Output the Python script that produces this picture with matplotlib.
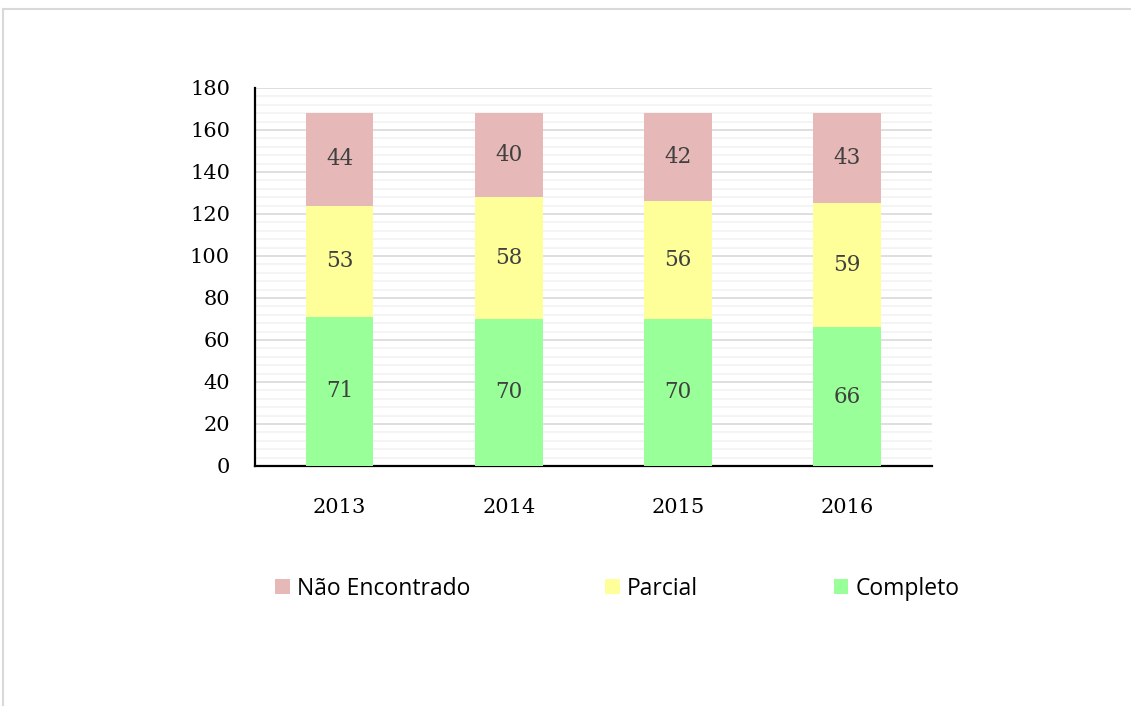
import numpy as np
import matplotlib.pyplot as plt
from matplotlib.lines import Line2D

years = ["2013", "2014", "2015", "2016"]
completo = [71, 70, 70, 66]
parcial = [53, 58, 56, 59]
nao_encontrado = [44, 40, 42, 43]

series = [("Não Encontrado", nao_encontrado, "#E6B8B7"),
          ("Parcial", parcial, "#FFFF99"),
          ("Completo", completo, "#99FF99")]

fig = plt.figure(figsize=(11.31, 7.06), dpi=100)
ax = fig.add_axes([0.2255, 0.34, 0.5985, 0.5355])

x = np.arange(len(years))
bottoms = np.zeros(len(years))
handles = {}
# stack from the bottom: Completo, Parcial, Não Encontrado
for name, vals, col in series[::-1]:
    bars = ax.bar(x, vals, 0.4, bottom=bottoms, color=col, zorder=3)
    ax.bar_label(bars, label_type="center", color="#404040",
                 fontsize=15.5, family="DejaVu Serif")
    handles[name] = bars
    bottoms += np.array(vals)

ax.set_xlim(-0.5, 3.5)
ax.set_ylim(0, 180)
ax.set_yticks(np.arange(0, 181, 20))
ax.set_yticks(np.arange(0, 181, 4), minor=True)
ax.set_xticks(x)
ax.set_xticklabels(years)
ax.grid(axis="y", which="major", color="#D9D9D9", lw=1.2, zorder=0)
ax.grid(axis="y", which="minor", color="#F2F2F2", lw=1.2, zorder=0)
ax.tick_params(which="both", length=0)
ax.tick_params(axis="y", pad=18, labelsize=15)
ax.tick_params(axis="x", pad=23, labelsize=15)
for lab in ax.get_xticklabels() + ax.get_yticklabels():
    lab.set_family("DejaVu Serif")
for s in ["top", "right"]:
    ax.spines[s].set_visible(False)
for s in ["left", "bottom"]:
    ax.spines[s].set_linewidth(1.6)
    ax.spines[s].set_color("black")

leg = fig.legend([handles[n] for n, _, _ in series], [n for n, _, _ in series],
                 loc="center left", bbox_to_anchor=(0.225, 0.166), ncol=3,
                 frameon=False, handlelength=0.65, handleheight=0.65,
                 handletextpad=0.3, columnspacing=5.9,
                 prop={"family": "Open Sans", "size": 16.5})

# outer chart border
fig.add_artist(Line2D([0.003, 1.0], [0.987, 0.987], color="#D9D9D9", lw=1.5))
fig.add_artist(Line2D([0.003, 0.003], [0.0, 0.987], color="#D9D9D9", lw=1.5))

fig.savefig("out.png", dpi=100)
